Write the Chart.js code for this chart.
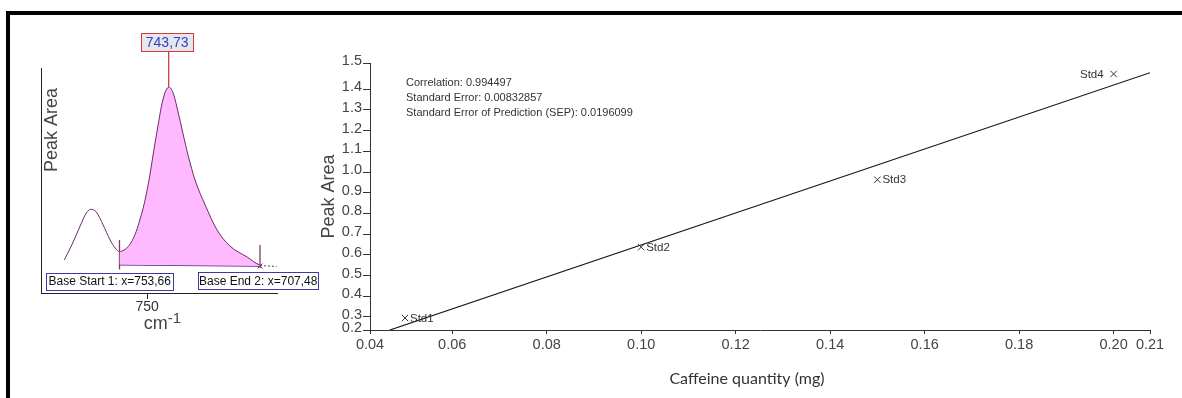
<!DOCTYPE html>
<html>
<head>
<meta charset="utf-8">
<title>Caffeine calibration</title>
<script src="https://cdn.jsdelivr.net/npm/chart.js@4/dist/chart.umd.min.js"></script>
<style>
  html, body { margin: 0; padding: 0; background: #fff; }
  body { width: 1182px; height: 398px; position: relative; overflow: hidden; }
  .frame { position: absolute; left: 6px; top: 11px; width: 1200px; height: 420px; border-top: 4px solid #000; border-left: 4px solid #000; }
  #peakChart { position: absolute; left: 0; top: 0; }
  #calChart { position: absolute; left: 318px; top: 0; }
</style>
</head>
<body>
<div class="frame"></div>
<canvas id="peakChart" width="320" height="398"></canvas>
<canvas id="calChart" width="864" height="398"></canvas>
<script>
// --- left panel: integrated peak (wavenumber, cm-1) ---
const specX = [774.1, 771.8, 769.5, 767.7, 766.4, 764.8, 762.8, 760.8, 759.3, 758.05,
  756.7, 755.5, 754.35, 753.2, 752.05, 751.15, 750.3, 749.4, 748.55, 747.7,
  746.8, 745.95, 745.2, 744.5, 743.73, 743.0, 742.15, 741.0, 739.6, 738.1,
  736.05, 733.1, 729.65, 725.9, 720.9, 717.15, 714.8, 712.3];
const specY = [0.147, 0.218, 0.298, 0.356, 0.372, 0.36, 0.302, 0.236, 0.2, 0.184,
  0.191, 0.207, 0.233, 0.273, 0.329, 0.378, 0.436, 0.507, 0.587, 0.667,
  0.747, 0.822, 0.871, 0.902, 0.914, 0.907, 0.876, 0.804, 0.711, 0.613,
  0.502, 0.391, 0.28, 0.209, 0.16, 0.124, 0.12, 0.118];
const specRange = [712.2, 780.9];
const specTicks = [750];
const baseX = [758.05, 717.15];
const baseY = [0.126, 0.12];
const baseStartMark = [0.105, 0.236];
const baseEndMark = [0.111, 0.213];
const peakX = 743.73;
const peakY = [0.914, 1.072];
const peakLabel = '743,73';
const baseLabels = ['Base Start 1: x=753,66', 'Base End 2: x=707,48'];

// --- right panel: calibration line ---
const caffeineStd = [0.05, 0.10, 0.15, 0.20];
const peakAreaStd = [0.295, 0.637, 0.963, 1.474];
const stdNames = ['Std1', 'Std2', 'Std3', 'Std4'];
const fitX = [0.0468, 0.2077];
const fitY = [0.237, 1.48];
const xTickValues = [0.0426, 0.06, 0.08, 0.10, 0.12, 0.14, 0.16, 0.18, 0.20, 0.2077];
const xTickLabels = ['0.04', '0.06', '0.08', '0.10', '0.12', '0.14', '0.16', '0.18', '0.20', '0.21'];
const yTickValues = [0.237, 0.3, 0.4, 0.5, 0.6, 0.7, 0.8, 0.9, 1.0, 1.1, 1.2, 1.3, 1.4, 1.527];
const yTickLabels = ['0.2', '0.3', '0.4', '0.5', '0.6', '0.7', '0.8', '0.9', '1.0', '1.1', '1.2', '1.3', '1.4', '1.5'];
const statsLines = ['Correlation: 0.994497', 'Standard Error: 0.00832857', 'Standard Error of Prediction (SEP): 0.0196099'];

const SANS = "'Liberation Sans', Arial, sans-serif";

function toPoints(xs, ys) {
  return xs.map((x, i) => ({ x, y: ys[i] }));
}

function drawBox(ctx, text, left, cy, font, textColor, fill, stroke, padX, h) {
  ctx.font = font;
  const w = ctx.measureText(text).width + padX * 2;
  ctx.fillStyle = fill;
  ctx.fillRect(left, cy - h / 2, w, h);
  ctx.strokeStyle = stroke;
  ctx.lineWidth = 1;
  ctx.strokeRect(Math.round(left) + 0.5, Math.round(cy - h / 2) + 0.5, Math.round(w), Math.round(h));
  ctx.fillStyle = textColor;
  ctx.textAlign = 'left';
  ctx.textBaseline = 'middle';
  ctx.fillText(text, left + padX, cy + 0.5);
  return w;
}

const peakPanelText = {
  id: 'peakPanelText',
  afterDraw(chart) {
    const { ctx, chartArea: area, scales: { x, y } } = chart;
    ctx.save();
    // peak position label
    const px = x.getPixelForValue(peakX);
    ctx.font = '14px ' + SANS;
    const pw = ctx.measureText(peakLabel).width + 9;
    drawBox(ctx, peakLabel, px - pw / 2 - 1.5, y.getPixelForValue(peakY[1]) - 9.2,
      '14px ' + SANS, '#2f3fc8', '#e6e6ec', '#d23a3a', 4.5, 18.4);
    // base point labels
    drawBox(ctx, baseLabels[0], area.left + 5, area.bottom - 12, '12px ' + SANS, '#111', '#fff', '#3a3aa8', 2.5, 16.6);
    drawBox(ctx, baseLabels[1], area.left + 157, area.bottom - 12.3, '12px ' + SANS, '#111', '#fff', '#3a3aa8', 1, 16.6);
    // axis title inside the plot
    ctx.translate(area.left + 11, area.top + 62);
    ctx.rotate(-Math.PI / 2);
    ctx.font = '18px ' + SANS;
    ctx.fillStyle = '#444';
    ctx.textAlign = 'center';
    ctx.textBaseline = 'middle';
    ctx.fillText('Peak Area', 0, 0);
    ctx.setTransform(1, 0, 0, 1, 0, 0);
    // unit with superscript
    const ux = x.getPixelForValue(specTicks[0]) - 3.5;
    ctx.textAlign = 'left';
    ctx.textBaseline = 'alphabetic';
    ctx.font = '18px ' + SANS;
    ctx.fillText('cm', ux, 328.5);
    const cw = ctx.measureText('cm').width;
    ctx.font = '15px ' + SANS;
    ctx.fillText('-1', ux + cw, 322.5);
    ctx.restore();
  }
};

const dashFrom = specX.indexOf(baseX[1]);
const fillX = specX.filter((v) => v <= baseX[0] && v >= baseX[1]);
const fillY = fillX.map((v) => specY[specX.indexOf(v)]);

new Chart(document.getElementById('peakChart'), {
  type: 'line',
  data: {
    datasets: [
      {
        data: toPoints(specX, specY),
        borderColor: '#6e2a68', borderWidth: 1, pointRadius: 0,
        cubicInterpolationMode: 'monotone', fill: false,
        segment: { borderDash: (c) => (c.p0DataIndex >= dashFrom ? [2, 2] : undefined) }
      },
      {
        data: toPoints(fillX, fillY),
        borderWidth: 0, pointRadius: 0, cubicInterpolationMode: 'monotone',
        backgroundColor: '#ffb9ff', fill: 2
      },
      {
        data: toPoints(baseX, baseY),
        borderColor: '#4b2a7e', borderWidth: 1.5, fill: false,
        pointRadius: [0, 3.5], pointStyle: 'crossRot', pointBorderColor: '#6e2a68', pointBorderWidth: 1
      },
      {
        data: toPoints([baseX[0], baseX[0]], baseStartMark),
        borderColor: '#7c3c68', borderWidth: 1.3, pointRadius: 0, fill: false
      },
      {
        data: toPoints([baseX[1], baseX[1]], baseEndMark),
        borderColor: '#7c3c68', borderWidth: 1.3, pointRadius: 0, fill: false
      },
      {
        data: toPoints([peakX, peakX], peakY),
        borderColor: '#d23030', borderWidth: 1.2, pointRadius: 0, fill: false, clip: false
      }
    ]
  },
  options: {
    responsive: false,
    animation: false,
    devicePixelRatio: 1,
    layout: { padding: { left: 41, top: 68, right: 43, bottom: 0 } },
    plugins: { legend: { display: false }, tooltip: { enabled: false } },
    scales: {
      x: {
        type: 'linear',
        reverse: true,
        min: specRange[0],
        max: specRange[1],
        afterBuildTicks: (scale) => { scale.ticks = specTicks.map((v) => ({ value: v })); },
        afterFit: (scale) => { scale.height = 105; },
        border: { color: '#222', width: 1 },
        grid: { drawOnChartArea: false, tickLength: 6, color: '#222' },
        ticks: { autoSkip: false, maxRotation: 0, padding: 0, color: '#333', font: { family: SANS, size: 14 }, callback: (v) => String(v) }
      },
      y: {
        min: 0,
        max: 1,
        afterFit: (scale) => { scale.width = 0; },
        border: { color: '#222', width: 1 },
        grid: { display: false },
        ticks: { display: false }
      }
    }
  },
  plugins: [peakPanelText]
});

const calText = {
  id: 'calText',
  afterDatasetsDraw(chart) {
    const { ctx, chartArea: area } = chart;
    const pts = chart.getDatasetMeta(1).data;
    ctx.save();
    ctx.font = '11.5px ' + SANS;
    ctx.fillStyle = '#333';
    ctx.textBaseline = 'middle';
    pts.forEach((pt, i) => {
      const last = i === pts.length - 1;
      ctx.textAlign = last ? 'right' : 'left';
      ctx.fillText(stdNames[i], last ? pt.x - 10 : pt.x + 5, pt.y + 0.5);
    });
    ctx.font = '11px ' + SANS;
    ctx.textAlign = 'left';
    statsLines.forEach((line, i) => {
      ctx.fillText(line, area.left + 36, area.top + 20 + i * 14.8);
    });
    ctx.font = "16px Lato, 'Open Sans', sans-serif";
    ctx.fillStyle = '#333';
    ctx.textAlign = 'center';
    ctx.fillText('Caffeine quantity (mg)', area.left + 377, 379);
    ctx.restore();
  }
};

new Chart(document.getElementById('calChart'), {
  type: 'scatter',
  data: {
    datasets: [
      {
        label: 'Fit',
        data: toPoints(fitX, fitY),
        showLine: true, borderColor: '#151515', borderWidth: 1.2, pointRadius: 0
      },
      {
        label: 'Standards',
        data: toPoints(caffeineStd, peakAreaStd),
        pointStyle: 'crossRot', pointRadius: 4.5, borderColor: '#333', backgroundColor: 'transparent', borderWidth: 1
      }
    ]
  },
  options: {
    responsive: false,
    animation: false,
    devicePixelRatio: 1,
    layout: { padding: { left: 0, top: 63, right: 32, bottom: 0 } },
    plugins: { legend: { display: false }, tooltip: { enabled: false } },
    scales: {
      x: {
        type: 'linear',
        min: xTickValues[0],
        max: xTickValues[xTickValues.length - 1],
        afterBuildTicks: (scale) => { scale.ticks = xTickValues.map((v) => ({ value: v })); },
        afterFit: (scale) => { scale.height = 68; },
        border: { color: '#333', width: 1 },
        grid: { drawOnChartArea: false, tickLength: 4, color: '#333' },
        ticks: { autoSkip: false, maxRotation: 0, padding: 2, color: '#444', font: { family: SANS, size: 14.5 }, callback: (v, i) => xTickLabels[i] }
      },
      y: {
        type: 'linear',
        min: yTickValues[0],
        max: yTickValues[yTickValues.length - 1],
        afterBuildTicks: (scale) => { scale.ticks = yTickValues.map((v) => ({ value: v })); },
        afterFit: (scale) => { scale.width = 52; },
        border: { color: '#333', width: 1 },
        grid: { drawOnChartArea: false, tickLength: 7, color: '#333' },
        title: { display: true, text: 'Peak Area', color: '#444', font: { family: SANS, size: 18 }, padding: { top: 0, bottom: 0 } },
        ticks: { autoSkip: false, padding: 1, labelOffset: -2, color: '#444', font: { family: SANS, size: 14.5 }, callback: (v, i) => yTickLabels[i] }
      }
    }
  },
  plugins: [calText]
});
</script>
</body>
</html>
